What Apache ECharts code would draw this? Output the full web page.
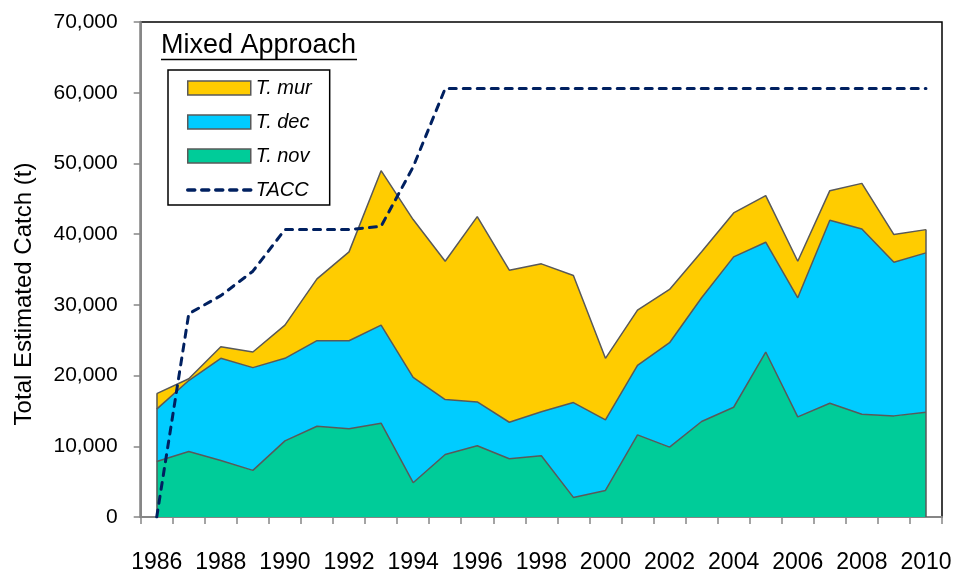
<!DOCTYPE html>
<html>
<head>
<meta charset="utf-8">
<style>
  html, body { margin: 0; padding: 0; background: #fff; }
  #chart { width: 957px; height: 574px; }
</style>
<script src="https://cdn.jsdelivr.net/npm/echarts@6/dist/echarts.min.js"></script>
</head>
<body>
<div id="chart"></div>
<script>
// 年份
var years = ['1986','1987','1988','1989','1990','1991','1992','1993','1994','1995','1996','1997','1998',
             '1999','2000','2001','2002','2003','2004','2005','2006','2007','2008','2009','2010'];
// 各种类的估计捕获量 (t)
var tNov = [7850,9270,8000,6590,10770,12840,12470,13270,4850,8840,10070,8230,8650,
            2770,3760,11620,9880,13500,15520,23330,14160,16090,14540,14300,14820];
var tDec = [7400,10030,14440,14530,11670,12090,12460,13870,14910,7760,6210,5170,6230,
            13410,9970,9830,14770,17500,21270,15530,16840,25870,26200,21730,22530];
var tMur = [2200,250,1640,2210,4700,8750,12560,21830,22300,19570,26200,21500,20920,
            17970,8710,7810,7530,6500,6210,6580,5170,4190,6440,3910,3290];
var tacc = [0,28750,31300,34760,40640,40640,40640,41110,49500,60600,60600,60600,60600,
            60600,60600,60600,60600,60600,60600,60600,60600,60600,60600,60600,60600];
var yTicks = [0,10000,20000,30000,40000,50000,60000,70000];

var fontFamily = '"Liberation Sans", Arial, sans-serif';
var edgeColor = '#595959';

// 首尾两端的竖直边
var first = 0, last = years.length - 1;
var totalFirst = tNov[first] + tDec[first] + tMur[first];
var totalLast = tNov[last] + tDec[last] + tMur[last];

var myChart = echarts.init(document.getElementById('chart'));

function areaSeries(name, data, color) {
    return {
        name: name,
        type: 'line',
        stack: 'catch',
        data: data,
        symbol: 'none',
        itemStyle: { color: color },
        lineStyle: { color: edgeColor, width: 1.5 },
        areaStyle: { color: color, opacity: 1 },
        emphasis: { disabled: true }
    };
}

var sNov = areaSeries('T. nov', tNov, '#00CC99');
var sDec = areaSeries('T. dec', tDec, '#00CCFF');
var sMur = areaSeries('T. mur', tMur, '#FFCC00');
sMur.markLine = {
    silent: true,
    symbol: 'none',
    label: { show: false },
    lineStyle: { color: edgeColor, width: 1.5, type: 'solid' },
    data: [
        [{ coord: [years[first], 0] }, { coord: [years[first], totalFirst] }],
        [{ coord: [years[last], 0] }, { coord: [years[last], totalLast] }]
    ]
};

var option = {
    animation: false,
    title: {
        text: 'Mixed Approach',
        left: 161,
        top: 32,
        padding: 0,
        textStyle: { fontFamily: fontFamily, fontSize: 27, fontWeight: 'normal', color: '#000' }
    },
    legend: {
        orient: 'vertical',
        left: 168,
        top: 70,
        padding: [8, 18, 5, 18],
        borderColor: '#000',
        borderWidth: 1.5,
        itemWidth: 63,
        itemHeight: 14,
        itemGap: 14,
        textStyle: { fontFamily: fontFamily, fontSize: 20, fontStyle: 'italic', color: '#000', lineHeight: 20 },
        data: [
            { name: 'T. mur', icon: 'rect', itemStyle: { color: '#FFCC00', borderColor: edgeColor, borderWidth: 1.5 } },
            { name: 'T. dec', icon: 'rect', itemStyle: { color: '#00CCFF', borderColor: edgeColor, borderWidth: 1.5 } },
            { name: 'T. nov', icon: 'rect', itemStyle: { color: '#00CC99', borderColor: edgeColor, borderWidth: 1.5 } },
            { name: 'TACC', itemStyle: { opacity: 0 }, lineStyle: { width: 3.5 } }
        ]
    },
    graphic: [
        { type: 'line', shape: { x1: 161, y1: 59.5, x2: 357, y2: 59.5 }, style: { stroke: '#000', lineWidth: 1.5 }, silent: true },
        {
            type: 'text', x: 24, y: 294, rotation: Math.PI / 2, silent: true,
            style: { text: 'Total Estimated Catch (t)', fontFamily: fontFamily, fontSize: 24, fill: '#000',
                     textAlign: 'center', textVerticalAlign: 'middle' }
        }
    ],
    grid: {
        left: 140.7, top: 22, right: 15, bottom: 56,
        show: true, borderColor: '#000', borderWidth: 1.5, backgroundColor: 'transparent',
        containLabel: false
    },
    xAxis: {
        type: 'category',
        data: years,
        boundaryGap: true,
        axisLine: { lineStyle: { color: '#868686', width: 2 } },
        axisTick: { show: true, interval: 0, length: 7, lineStyle: { color: '#868686', width: 1.5 } },
        axisLabel: { interval: 1, margin: 34, fontFamily: fontFamily, fontSize: 23, color: '#000' },
        splitLine: { show: false }
    },
    yAxis: {
        type: 'value',
        min: yTicks[0],
        max: yTicks[yTicks.length - 1],
        interval: yTicks[1] - yTicks[0],
        axisLine: { show: true, lineStyle: { color: '#868686', width: 2.5 } },
        axisTick: { show: true, length: 7, lineStyle: { color: '#868686', width: 1.5 } },
        axisLabel: {
            margin: 23, fontFamily: fontFamily, fontSize: 21, color: '#000',
            formatter: function (v) { return v.toLocaleString('en-US'); }
        },
        splitLine: { show: false }
    },
    series: [
        sNov,
        sDec,
        sMur,
        {
            name: 'TACC',
            type: 'line',
            data: tacc,
            symbol: 'none',
            itemStyle: { color: '#002060' },
            lineStyle: { color: '#002060', width: 3, type: [7, 7], cap: 'round' },
            emphasis: { disabled: true },
            z: 5
        }
    ]
};

myChart.setOption(option);
</script>
</body>
</html>
